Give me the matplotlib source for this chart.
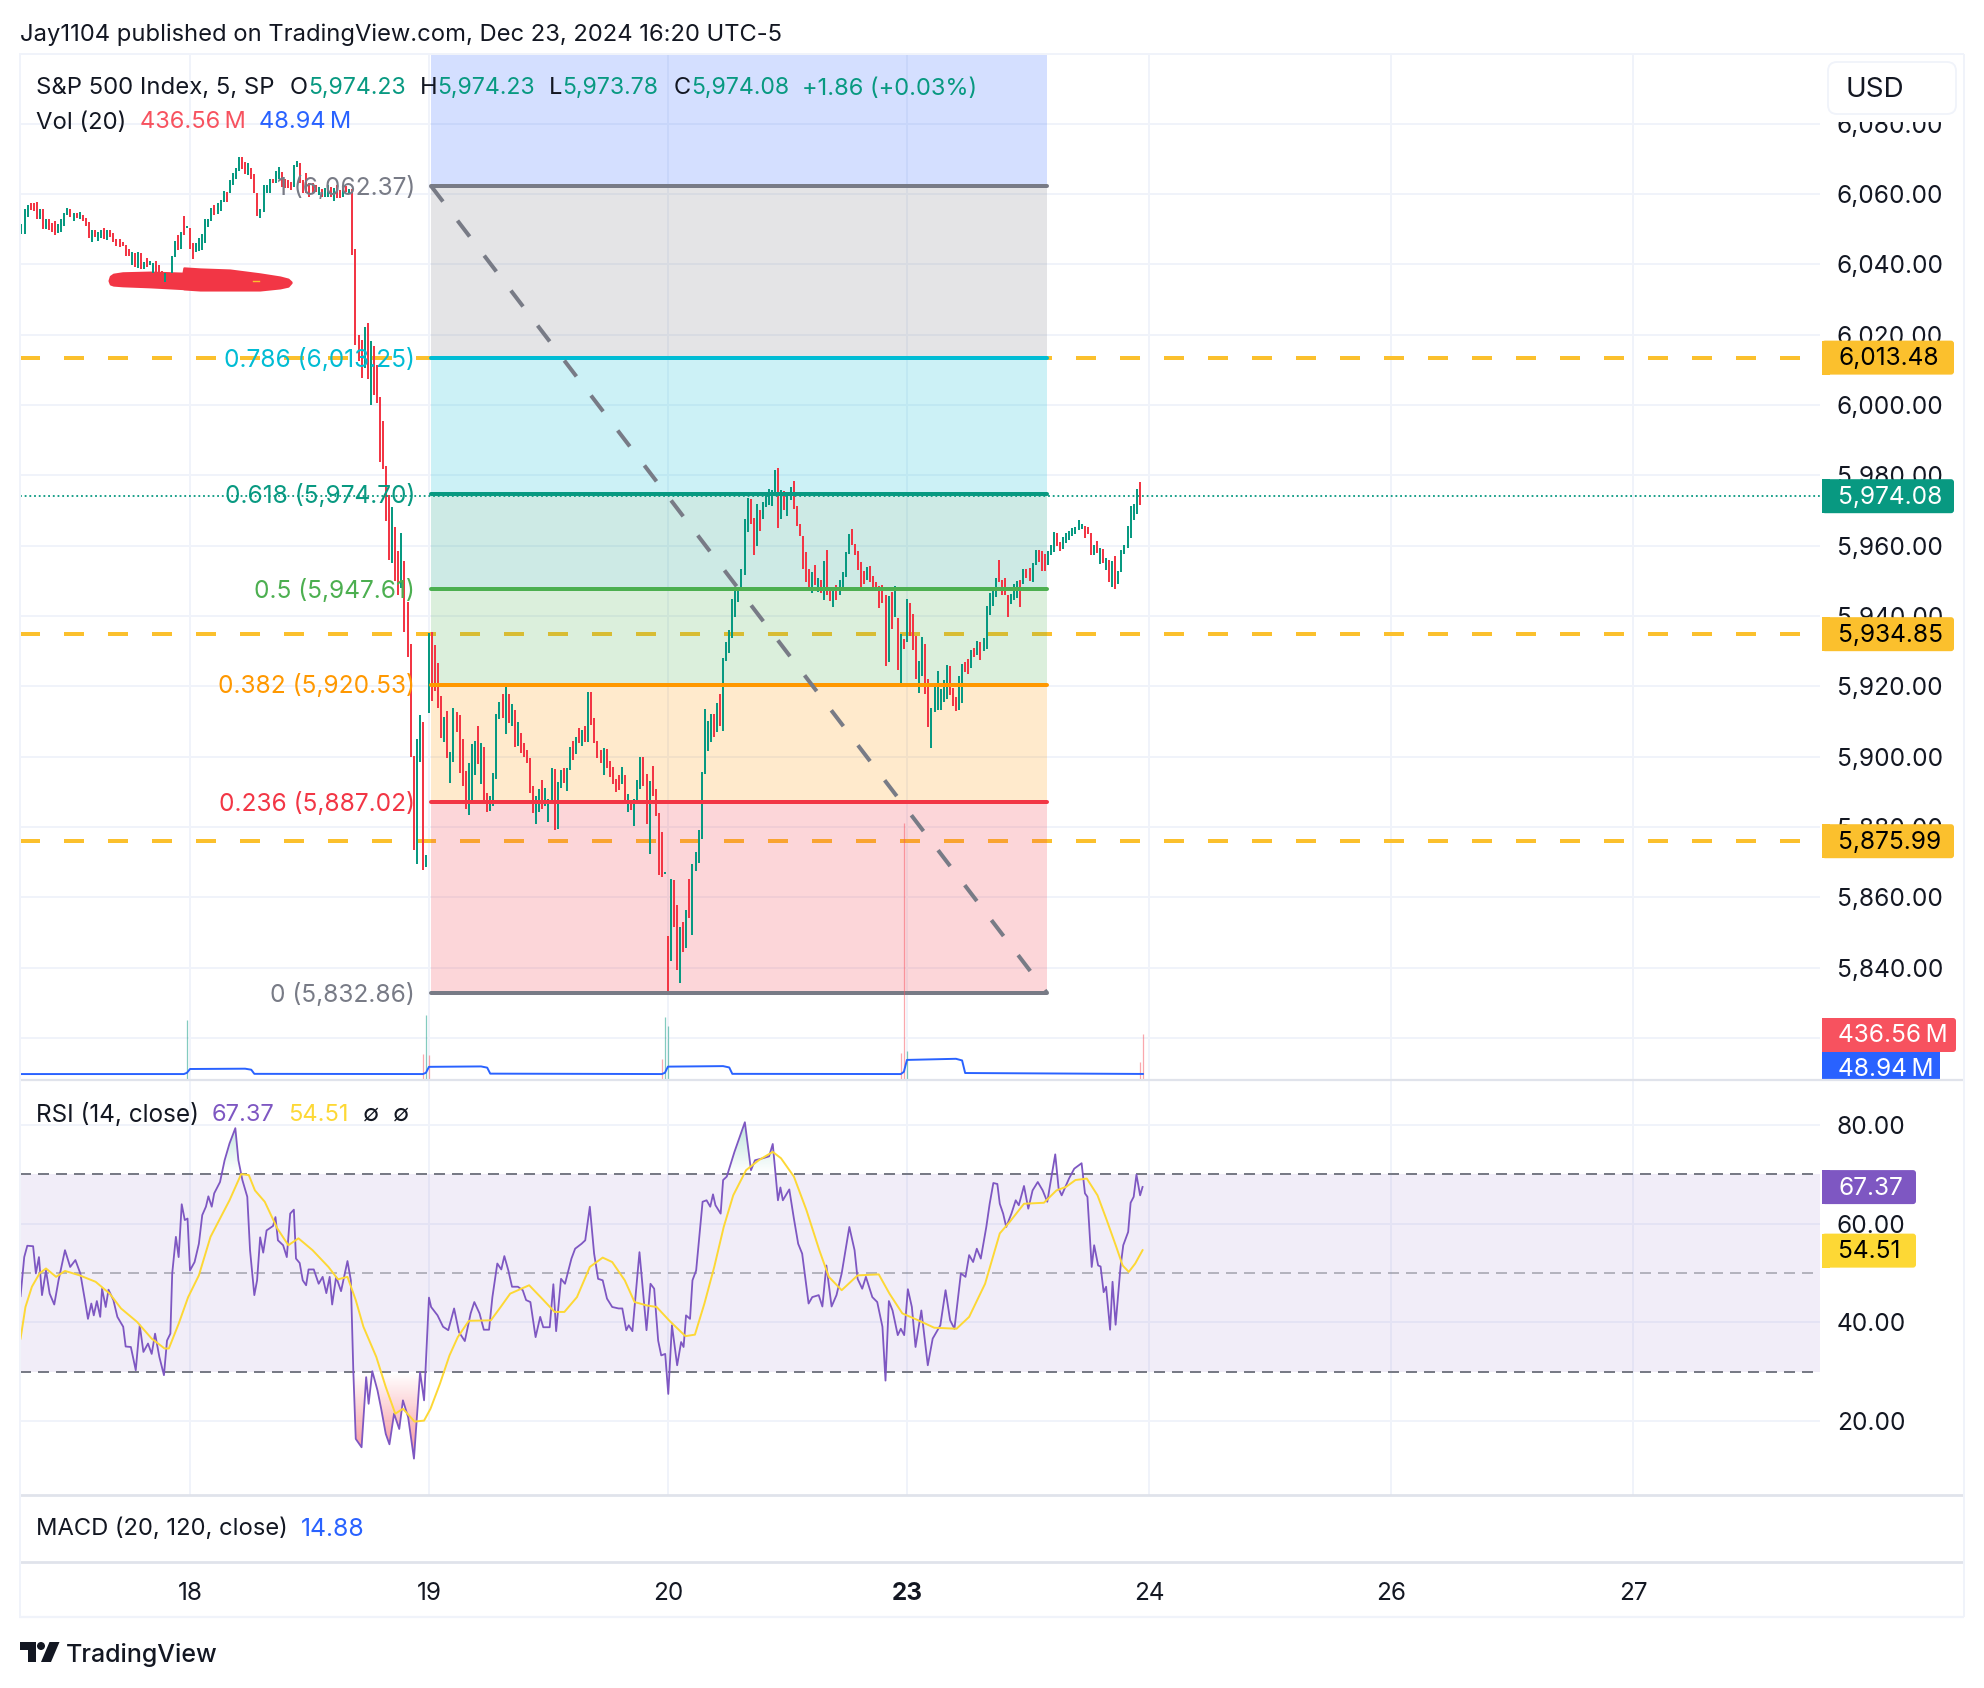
import matplotlib
matplotlib.use("Agg")
import matplotlib.pyplot as plt
import numpy as np
from matplotlib.patches import FancyBboxPatch, Rectangle, Circle, Polygon
from matplotlib.path import Path

plt.rcParams['font.family'] = ['Inter', 'DejaVu Sans']

# (open, close) per 5 minute bar, one list per session
day17_bars = [(6048.6,6051.5),(6048.6,6055.7),(6053.5,6056.9),(6057.3,6055.4),(6057.3,6055.2),(6057.6,6052.8),(6052.8,6055.6),(6055.6,6050.0),(6050.0,6053.0),(6052.9,6049.8),(6051.8,6049.3),(6052.3,6048.3),(6048.8,6051.6),(6049.3,6053.0),(6050.9,6054.5),(6054.0,6055.9),(6055.6,6053.5),(6052.3,6054.5),(6054.5,6053.1),(6052.9,6054.9),(6054.0,6052.4),(6053.3,6050.9),(6052.1,6047.6),(6046.4,6049.9),(6049.7,6047.9),(6046.7,6049.3),(6047.4,6049.9),(6050.2,6047.1),(6046.9,6049.7),(6049.7,6047.9),(6048.8,6046.4),(6047.2,6045.3),(6047.2,6045.0),(6046.4,6045.2),(6045.5,6042.5),(6044.3,6042.3),(6039.8,6043.6),(6043.1,6039.3),(6039.1,6043.4),(6043.1,6038.8),(6038.7,6040.7),(6041.7,6039.3),(6039.8,6041.0),(6037.6,6040.3),(6040.9,6037.7),(6039.8,6037.4),(6038.2,6036.5),(6035.1,6037.6),(6037.4,6036.0),(6037.4,6042.4),(6042.0,6046.7),(6048.3,6044.1),(6044.3,6049.3),(6053.7,6048.3),(6050.4,6050.8)]
day18_bars = [(6050.2,6044.3),(6046.0,6041.6),(6043.6,6046.2),(6043.9,6047.4),(6044.1,6048.6),(6046.0,6053.0),(6050.5,6053.0),(6052.3,6055.9),(6056.9,6054.0),(6054.3,6057.3),(6055.2,6058.3),(6057.8,6060.9),(6060.6,6057.8),(6060.2,6064.0),(6062.5,6065.9),(6064.3,6067.3),(6066.6,6070.4),(6070.4,6067.0),(6069.2,6065.7),(6065.4,6068.7),(6067.3,6064.4),(6065.7,6060.2),(6060.2,6053.8),(6053.3,6055.6),(6054.8,6062.5),(6060.2,6062.5),(6060.4,6064.4),(6064.4,6063.0),(6063.0,6066.6),(6064.4,6067.8),(6066.3,6062.1),(6064.2,6061.6),(6064.0,6061.6),(6063.5,6061.1),(6062.1,6068.2),(6067.8,6069.4),(6068.7,6063.0),(6064.0,6060.2),(6065.9,6060.2),(6063.0,6059.2),(6063.0,6060.2),(6062.5,6060.7),(6059.7,6062.0),(6061.3,6059.2),(6059.2,6061.6),(6059.2,6062.5),(6062.0,6059.2),(6058.1,6061.6),(6062.5,6058.8),(6061.1,6058.8),(6059.2,6062.5),(6062.3,6060.6),(6060.2,6061.4),(6061.3,6042.6),
    (6044.3,6017.1),(6019.8,6012.5),(6018.5,6007.8),(6010.5,6022.2),(6023.4,6007.3),(5999.9,6018.1),(6016.8,6002.9),(6011.4,6000.7),(6002.2,5983.9),(5995.5,5981.9),(5982.7,5967.0),(5974.4,5955.9),(5955.2,5971.1),(5965.4,5950.1),(5958.5,5946.1),(5947.9,5963.7),(5955.6,5935.6),(5944.1,5928.4),(5932.0,5899.8),(5900.1,5873.4),(5869.6,5905.0),(5898.4,5911.8),(5909.9,5867.9),(5868.7,5872.0)]
day19_bars = [(5912.5,5935.1),(5935.5,5915.9),(5931.8,5918.8),(5926.6,5913.9),(5917.3,5905.4),(5904.3,5911.3),(5913.0,5899.7),(5892.6,5901.3),(5898.6,5913.9),(5912.7,5907.1),(5911.9,5895.5),(5905.0,5891.8),(5895.9,5885.2),(5883.5,5898.2),(5887.8,5903.6),(5894.9,5904.5),(5908.7,5898.0),(5892.3,5903.9),(5902.8,5886.9),(5889.7,5884.4),(5884.6,5888.8),(5886.1,5895.4),(5893.8,5912.1),(5910.8,5915.5),(5917.8,5911.1),(5906.6,5919.8),(5917.8,5909.7),(5908.8,5915.0),(5913.3,5902.9),(5903.1,5909.9),(5906.7,5901.1),(5903.9,5900.0),(5901.9,5898.3),(5899.6,5889.8),(5891.7,5884.1),(5881.0,5888.8),(5884.4,5890.8),(5893.4,5885.2),(5886.1,5891.1),(5881.5,5888.1),(5887.2,5896.8),(5896.5,5879.2),(5879.5,5892.8),(5891.2,5896.2),(5896.8,5892.6),(5890.3,5896.8),(5896.3,5902.8),(5904.5,5899.2),(5900.8,5905.6),(5908.2,5904.0),(5903.1,5907.6),(5908.7,5904.3),(5904.3,5918.4),(5918.4,5909.1),(5911.0,5904.0),(5904.5,5899.7),(5901.9,5898.3),(5894.9,5902.5),(5902.2,5896.9),(5898.8,5894.3),(5897.1,5892.3),(5893.7,5890.0),(5894.8,5890.6),(5892.3,5897.1),(5894.8,5887.2),(5884.4,5889.4),(5887.7,5884.9),(5880.4,5888.0),(5887.7,5893.4),(5890.9,5899.9),(5899.9,5891.8),(5895.1,5881.0),(5872.4,5893.1),(5897.4,5888.9),(5890.8,5883.2),(5884.0,5866.5),(5878.6,5865.9),(5866.7,5867.2)]
day20_bars = [(5849.0,5832.2),(5842.0,5865.2),(5864.9,5851.7),(5857.8,5839.4),(5835.8,5851.6),(5853.0,5844.6),(5845.7,5856.4),(5865.2,5854.2),(5849.4,5869.5),(5867.6,5872.9),(5869.9,5879.2),(5876.7,5895.6),(5895.2,5913.6),(5901.7,5910.1),(5904.3,5912.1),(5912.1,5905.7),(5907.1,5915.3),(5917.8,5908.8),(5907.4,5928.0),(5927.2,5932.6),(5929.5,5936.0),(5933.7,5944.8),(5939.7,5947.7),(5944.0,5948.2),(5948.1,5953.4),(5951.7,5967.6),(5963.9,5973.6),(5973.3,5966.2),(5967.9,5957.3),(5959.9,5971.9),(5970.1,5964.2),(5967.6,5972.4),(5971.1,5974.7),(5971.6,5976.1),(5971.3,5975.8),(5974.4,5981.5),(5982.0,5965.0),(5967.6,5975.8),(5975.5,5970.1),(5968.4,5975.3),(5973.0,5976.7),(5978.4,5970.4),(5971.3,5965.6),(5966.2,5962.8),(5962.8,5953.4),(5958.2,5949.7),(5953.4,5947.1),(5946.5,5952.5),(5954.5,5948.8),(5946.8,5950.8),(5950.2,5946.5),(5944.5,5955.6),(5958.8,5946.0),(5947.7,5944.3),(5942.6,5948.0),(5948.8,5944.5),(5946.0,5950.2),(5947.7,5952.5),(5951.1,5958.2),(5957.6,5963.3),(5964.7,5960.2),(5960.5,5957.3),(5958.5,5953.1),(5955.4,5948.2),(5952.8,5949.1),(5950.2,5953.9),(5954.2,5949.7),(5951.4,5948.0),(5949.7,5947.1),(5948.5,5942.3),(5948.8,5943.7),(5946.0,5925.8),(5926.9,5945.7),(5946.8,5936.3),(5939.7,5948.5),(5939.4,5924.6),(5920.9,5934.9),(5933.5,5930.6)]
day23_bars = [(5932.6,5944.8),(5943.7,5934.3),(5940.6,5930.3),(5934.3,5922.1),(5918.1,5927.2),(5922.9,5934.0),(5932.0,5917.8),(5922.1,5908.4),(5902.5,5913.8),(5912.7,5919.8),(5913.3,5924.4),(5913.3,5919.2),(5915.5,5921.8),(5916.4,5926.1),(5925.8,5917.5),(5919.5,5914.4),(5917.0,5913.0),(5913.3,5922.9),(5915.3,5926.3),(5926.9,5924.1),(5927.8,5923.5),(5925.2,5930.3),(5930.9,5928.3),(5928.9,5932.9),(5932.6,5927.5),(5930.0,5933.8),(5930.6,5942.8),(5940.3,5946.5),(5942.8,5947.4),(5945.4,5950.8),(5955.9,5949.7),
    (5950.3,5945.9),(5950.7,5945.9),(5946.0,5939.6),(5943.3,5946.2),(5944.7,5949.2),(5945.0,5949.9),(5950.2,5942.7),(5949.0,5953.4),(5953.3,5950.7),(5953.8,5950.1),(5949.6,5955.0),(5954.6,5958.8),(5958.8,5955.4),(5958.4,5952.7),(5957.6,5952.9),(5954.4,5958.5),(5957.4,5960.1),(5958.3,5963.8),(5963.5,5959.9),(5961.0,5958.5),(5959.2,5962.4),(5960.8,5963.6),(5961.6,5964.3),(5962.8,5965.1),(5963.4,5965.3),(5964.6,5967.4),(5964.7,5966.3),(5965.5,5962.3),(5965.3,5963.3),(5963.5,5957.4),(5957.4,5960.2),(5961.4,5958.0),(5954.8,5959.3),(5959.1,5955.1),(5953.2,5956.5),(5956.0,5949.7),(5948.3,5955.6),(5957.0,5947.6),(5949.0,5952.8),(5952.5,5958.8),(5957.6,5960.2),(5959.3,5965.7),(5962.3,5971.2),(5967.3,5971.8),(5968.9,5976.0),(5978.1,5971.6)]

# fibonacci retracement
fib_levels = [1, 0.786, 0.618, 0.5, 0.382, 0.236, 0]
fib_prices = [6062.37, 6013.25, 5974.70, 5947.61, 5920.53, 5887.02, 5832.86]
fib_labels = ["1 (6,062.37)", "0.786 (6,013.25)", "0.618 (5,974.70)", "0.5 (5,947.61)", "0.382 (5,920.53)", "0.236 (5,887.02)", "0 (5,832.86)"]
fib_colors = ["#787B86", "#00BCD4", "#089981", "#4CAF50", "#FF9800", "#F23645", "#787B86"]
fib_start = 78.6
fib_end = 279.7

gold_levels = [6013.48, 5934.85, 5875.99]
last_price = 5974.08

# brush scribble under the lows of the 17th
brush_bar = [-26.4, -26, -25, -22, -13, -2.3, -2, 3.3, 13, 22.8, 29.4, 32, 33]
brush_top = [6035.5, 6036.6, 6037.2, 6037.6, 6037.8, 6037.5, 6039, 6038.7, 6038.4, 6037.3, 6036.4, 6035.8, 6035]
brush_low = [6035.3, 6034.4, 6034.1, 6033.9, 6033.6, 6033.1, 6033, 6032.7, 6032.7, 6032.7, 6033.3, 6033.8, 6034.8]

# volume in millions, only the bars that can be seen
vol_bar = [-1, 76, 77, 78, 154, 155, 156, 232, 233, 234, 310, 311]
vol_val = [572, 243, 620, 233, 194, 600, 514, 252, 2483, 272, 165, 436.56]
vol_up = [1, 0, 1, 0, 0, 1, 1, 0, 0, 1, 0, 0]
vma_bar = [-56, -2, -1, 0, 18, 20, 21, 76, 77, 78, 95, 97, 98, 154, 155, 156, 174, 176, 177, 232, 233, 234, 250, 252, 253, 311]
vma_val = [48, 48, 60, 97, 100, 90, 50, 48, 60, 118, 122, 110, 52, 48, 60, 120, 125, 112, 50, 48, 70, 185, 196, 180, 58, 48.94]

# RSI line, read at its turning points (bar, value)
rsi_points = [(-55.3,45.3),(-54.1,53.2),(-53.1,55.5),(-51.2,55.4),(-50.3,49.9),(-49.3,53.2),(-48.3,45.5),(-47,50.5),(-45.8,45.8),(-44.3,43.6),(-42.9,48.5),(-40.8,54.6),(-39.1,51.2),(-37.4,52.6),(-35.8,49.9),(-34.3,44.5),(-33.3,40.7),(-32.2,43.8),(-31.4,41.4),(-30.4,44.3),(-29.3,41.1),(-28.7,46.8),(-27.5,43.1),(-26.6,46.6),(-25,44.5),(-23.7,41.1),(-21.8,39.1),(-21,35.1),(-19.3,35),(-17.7,30.3),(-16.4,39.4),(-15.2,34),(-13.7,35.7),(-12.5,33.6),(-11.4,37.7),(-10,33),(-8.5,29.3),(-7.5,36.3),(-6.4,37.7),(-5.8,49.9),(-4.6,57.3),(-3.7,53.2),(-2.7,63.9),(-1.7,60.7),(-0.8,61),(0,50.5),(1.5,52.2),(2.9,55.9),(4,61.7),(5.2,63.4),(6,65.5),(7.1,63.4),(7.9,66.1),(9.8,68.4),(11.3,72.8),(12.9,76.2),(14.8,79.3),(15.8,72.8),(17.1,68.8),(18.7,65.4),(19.6,54.6),(21,45.5),(21.9,48.5),(22.9,57.2),(23.9,54.1),(25,58.6),(27.1,59.5),(27.9,61.3),(28.7,56.6),(30.4,55.6),(31.6,53.2),(32.7,62),(33.9,62.8),(34.6,52.9),(35.8,52),(36.8,48.5),(37.9,47.5),(38.7,50.7),(40.4,50.7),(42,47.8),(43.3,49.2),(44.5,45.9),(45.6,49.2),(46.4,43.6),(47.7,49.2),(49.3,46.3),(51.4,52.4),(52.5,48.5),(53.3,30.3),(54.1,16.4),(56,14.7),(57.5,28.9),(58.3,23.5),(59.5,30.1),(61.2,26.2),(62.4,22.5),(63.9,17.4),(65.1,15.3),(66.6,21.5),(68.3,18.4),(69.5,24.2),(71.2,20.8),(73.1,12.4),(75.1,29.9),(76.4,24.2),(78,45),(78.7,43.1),(80.8,41.4),(82.6,39.1),(84.3,38.4),(86.2,42.8),(87.8,38),(89.7,36.2),(91.6,41.8),(92.8,44.1),(94.5,41.8),(95.9,38.5),(97.6,38.5),(98.7,45.1),(100.3,51.9),(101.6,50.7),(102.6,53.4),(103.9,50.5),(105.1,47.2),(107,47.2),(108.6,46.5),(109.7,44.5),(111.1,44.1),(112.8,37),(114.3,41.1),(115.3,39),(117.4,39),(118.6,47.7),(119.5,38.2),(121.1,48.8),(122.4,47.8),(124.5,52.9),(125.7,54.9),(127.8,55.9),(129,56.6),(130.5,63.4),(131.9,53.9),(133.2,48.8),(134.7,48.5),(136.1,44.8),(137.8,43.1),(139.9,42.8),(141.1,42.8),(142.4,38.4),(143.2,39.4),(144.4,38.2),(146.7,54.2),(149,38.4),(150.3,47.8),(151.5,46.8),(152.8,36.3),(153.8,33.3),(155.1,33.6),(156.1,25.5),(157.3,39.4),(159,31.3),(160.3,36),(161.1,35),(161.9,41.4),(163.2,40.7),(164,48.5),(165.2,50.5),(167.3,64.4),(168.6,64.7),(169.8,63.4),(170.7,65.9),(171.5,63.7),(173.2,62),(174,68.8),(175.2,69.5),(177.7,74.5),(181.1,80.5),(183.1,70.8),(184.4,72.8),(186.9,73.2),(189,73.6),(190.2,76.1),(191.9,64.7),(192.7,67.3),(193.5,64.7),(195.6,66.9),(197.1,61),(198.5,55.9),(199.8,53.9),(201.9,43.8),(203.1,45.1),(205.2,45.5),(206.4,43.2),(207.7,51.5),(209.4,43.2),(211,45.5),(212.7,49.9),(215.2,59.3),(216.9,54.6),(217.9,48.8),(219.4,46.8),(220.6,49.2),(222.7,45.1),(224.3,44.1),(226,39.1),(227,28.2),(228.1,44.3),(229.3,42.4),(231,37.4),(232,38.7),(233.1,37.4),(234.3,46.7),(235.6,43.1),(236.8,35),(238.7,42.4),(240.8,31.3),(242.4,36.7),(244.9,39.4),(246.6,46.5),(248.1,40.4),(249.5,38.7),(251.6,49.9),(253.1,49.2),(254.3,53.6),(255.6,52.2),(256.8,54.9),(258.1,52.9),(259.9,59.3),(261,64),(262.2,68.2),(263.5,68),(264.3,64),(265.4,62),(266.4,59.3),(268.1,62),(269.5,64.7),(270.5,63.7),(272.2,67.6),(273.6,63),(275,66.7),(276.7,68.4),(278.3,66.7),(279.8,64.4),(282.4,74),(283.5,67.1),(284.5,65.7),(286.9,69.1),(288.6,71.1),(291,72.2),(292.1,66.1),(292.9,65.4),(294.3,51.2),(295.1,55.6),(296.4,51.5),(297.2,51.3),(298.2,46.1),(299,47.2),(300.3,38.5),(301.1,48.2),(302.1,39.5),(303.7,51.2),(304.6,55.6),(306.2,58.3),(307,64.2),(308,65.4),(308.9,69.9),(310.1,65.7),(310.9,67.4)]
rsi_ma_points = [(-55.3,36.7),(-53.7,43.1),(-51.6,47.2),(-49.1,49.9),(-47,50.9),(-43.7,49.2),(-40.8,50.4),(-36,49.5),(-30.8,48.2),(-26.2,45.8),(-22.5,42.8),(-17.3,40.1),(-12.5,36.7),(-8.3,34.7),(-6.9,34.7),(-3.7,39.7),(-0.6,45.1),(2.9,49.5),(6.7,57.3),(9.8,61),(12.9,64.7),(16.7,70),(19.2,69.8),(21.2,66.7),(24.4,64.4),(28.5,59),(32.1,55.6),(35.4,57),(40,54.6),(45.2,51.2),(48.3,48.7),(51.4,49.2),(54.1,44.5),(56.6,39.1),(60.8,33),(63.9,26.9),(67,21.5),(69.5,22.5),(73.3,19.9),(76.4,20.1),(78.5,22.5),(81.6,27.6),(84.7,33.3),(87.4,37),(91,40.3),(98.2,40.4),(101.4,43.1),(104.5,45.8),(110.7,47.5),(114.9,44.8),(119,42.1),(122.2,42.1),(126.3,45.1),(130.5,51.2),(134.7,53.1),(137.8,52.2),(141.9,48.5),(145.1,44.1),(149.2,43.4),(152.3,43.1),(156.5,40.3),(161.7,37.2),(164.8,37.5),(167.9,43.8),(171.1,51.2),(174.2,59.3),(177.3,65.7),(181.5,70.8),(185.6,72.8),(190.2,74.5),(192.9,73.2),(197.1,69.5),(201.2,62.7),(205.4,54.6),(208.5,49.2),(212.7,46.5),(217.9,49.5),(224.8,49.7),(228.3,45.8),(232.5,41.8),(237.7,40.4),(242.9,38.9),(250.2,38.7),(254.3,41.1),(259.5,47.8),(264.3,58),(267.5,60.3),(272.2,64),(278.7,64.2),(282.8,66.7),(285.9,67.4),(289,68.8),(292.7,69.1),(296.2,65.7),(299.2,60.7),(302.3,55.3),(304.4,51.5),(306.4,50.2),(308.5,51.9),(310.9,54.6)]

price_ticks = list(range(5820, 6081, 20))
rsi_ticks = [20, 40, 60, 80]
day_ticks = [0, 78, 156, 234, 313, 392, 471]
day_names = ["18", "19", "20", "23", "24", "26", "27"]

TEXT = "#131722"
GRID = "#F0F3FA"
SEP = "#E0E3EB"
GREEN = "#089981"
RED = "#F23645"
GOLD = "#FBC02D"
PURPLE = "#7E57C2"
YELLOW = "#FDD835"
BLUE = "#2962FF"
W, H = 1984, 1688


def pane(top, bottom):
    return [20 / W, 1 - bottom / H, 1800 / W, (bottom - top) / H]


fig = plt.figure(figsize=(W / 100, H / 100), dpi=100, facecolor="white")
xlim = (-55.48, 532)

# main pane
ax = fig.add_axes(pane(54, 1080))
ax.set_xlim(xlim)
ax.set_ylim(5808.1, 6099.8)
ax.set_xticks(day_ticks)
ax.set_xticklabels([])
ax.set_yticks(price_ticks)
ax.set_yticklabels([f"{v:,.2f}" for v in price_ticks])
ax.yaxis.tick_right()
ax.tick_params(length=0, labelsize=17.6, labelcolor=TEXT, pad=12)
ax.grid(color=GRID, lw=1.44)
ax.set_axisbelow(True)
for s in ax.spines.values():
    s.set_visible(False)

for lv in gold_levels:
    ax.plot(xlim, [lv, lv], color=GOLD, lw=2.88, ls=(0, (5, 6)), dash_capstyle="butt", zorder=1.5)

# fib fills, each band takes the colour of its upper level, blue above the top one
ax.fill_between([fib_start, fib_end], fib_prices[0], 6099.8, color=BLUE, alpha=0.2, lw=0, zorder=2)
for k in range(1, len(fib_prices)):
    ax.fill_between([fib_start, fib_end], fib_prices[k], fib_prices[k - 1], color=fib_colors[k - 1],
                    alpha=0.2, lw=0, zorder=2)

ax.fill_between(brush_bar, brush_low, brush_top, color=RED, lw=1.5, zorder=2.5)
ax.plot([20.5, 22.5], [6035.3, 6035.3], color="#FBC02D", lw=1.0, zorder=2.6)

# bars
all_x, all_o, all_c = [], [], []
for start, bars in [(-len(day17_bars), day17_bars), (0, day18_bars), (78, day19_bars), (156, day20_bars), (234, day23_bars)]:
    for i, (o, c) in enumerate(bars):
        all_x.append(start + i)
        all_o.append(o)
        all_c.append(c)
bar_colors = [GREEN if c >= o else RED for o, c in zip(all_o, all_c)]
vl = ax.vlines(all_x, all_o, all_c, colors=bar_colors, lw=1.44, zorder=3)
vl.set_capstyle("butt")

ax.plot(xlim, [last_price, last_price], color=GREEN, lw=1.3, ls=(0, (1, 1.6)), zorder=3.5)

for p, c in zip(fib_prices, fib_colors):
    ax.plot([fib_start, fib_end], [p, p], color=c, lw=2.88, solid_capstyle="round", zorder=4)
ax.plot([fib_start, fib_end], [fib_prices[0], fib_prices[-1]], color="#787B86", lw=2.88,
        ls=(0, (5, 6)), dash_capstyle="butt", zorder=4.5)

for p, c, s in zip(fib_prices, fib_colors, fib_labels):
    ax.annotate(s, (73.5, p), xytext=(0, -1.4), textcoords="offset points", color=c, fontsize=17.6,
                ha="right", va="center", zorder=6)

# volume overlay, same rectangle
ax_vol = fig.add_axes(pane(54, 1080), facecolor="none")
ax_vol.set_xlim(xlim)
ax_vol.set_ylim(-9.7, 9942)
ax_vol.axis("off")
for b, v, u in zip(vol_bar, vol_val, vol_up):
    ax_vol.vlines(b, 0, v, color=GREEN if u else "#F7525F", alpha=0.5, lw=0.9)
ax_vol.plot(vma_bar, vma_val, color=BLUE, lw=1.4)

# rsi pane
ax2 = fig.add_axes(pane(1080, 1495))
ax2.set_xlim(xlim)
ax2.set_ylim(5.04, 89.05)
ax2.set_xticks(day_ticks)
ax2.set_xticklabels([])
ax2.set_yticks(rsi_ticks)
ax2.set_yticklabels([f"{v:.2f}" for v in rsi_ticks])
ax2.yaxis.tick_right()
ax2.tick_params(length=0, labelsize=17.6, labelcolor=TEXT, pad=12)
ax2.grid(color=GRID, lw=1.44)
ax2.set_axisbelow(True)
for s in ax2.spines.values():
    s.set_visible(False)
ax2.axhspan(30, 70, color=PURPLE, alpha=0.1, lw=0, zorder=1.5)
ax2.axhline(70, color="#787B86", lw=1.44, ls=(0, (5.5, 3.5)), zorder=2)
ax2.axhline(30, color="#787B86", lw=1.44, ls=(0, (5.5, 3.5)), zorder=2)
ax2.axhline(50, color="#787B86", lw=1.44, ls=(0, (5.5, 3.5)), alpha=0.5, zorder=2)

rsi_x = np.array([p[0] for p in rsi_points])
rsi_y = np.array([p[1] for p in rsi_points])


def gradient_fill(mask_level, far_level, color, max_alpha, above):
    where = rsi_y > mask_level if above else rsi_y < mask_level
    coll = ax2.fill_between(rsi_x, rsi_y, mask_level, where=where, interpolate=True, alpha=0, lw=0)
    rgba = np.zeros((64, 1, 4))
    rgba[..., :3] = matplotlib.colors.to_rgb(color)
    rgba[:, 0, 3] = np.linspace(max_alpha, 0, 64) if above else np.linspace(0, max_alpha, 64)
    lo, hi = sorted([mask_level, far_level])
    im = ax2.imshow(rgba, extent=[xlim[0], xlim[1], lo, hi], aspect="auto", origin="upper", zorder=2.2)
    im.set_clip_path(Path.make_compound_path(*coll.get_paths()), transform=ax2.transData)


gradient_fill(30, 11, RED, 0.6, False)
gradient_fill(70, 81, GREEN, 0.28, True)
ax2.set_xlim(xlim)
ax2.set_ylim(5.04, 89.05)

ax2.plot(rsi_x, rsi_y, color=PURPLE, lw=1.3, zorder=3)
ax2.plot([p[0] for p in rsi_ma_points], [p[1] for p in rsi_ma_points], color=YELLOW, lw=1.4, zorder=3.2)

# time axis
ax3 = fig.add_axes(pane(1562, 1575), facecolor="none")
ax3.set_xlim(xlim)
ax3.set_ylim(0, 1)
ax3.set_yticks([])
ax3.set_xticks(day_ticks)
ax3.set_xticklabels(day_names)
ax3.tick_params(length=0, labelsize=17.5, labelcolor=TEXT, pad=5)
ax3.get_xticklabels()[3].set_fontweight("bold")
for s in ax3.spines.values():
    s.set_visible(False)

# overlay in pixels for the chrome
ov = fig.add_axes([0, 0, 1, 1], facecolor="none", zorder=10)
ov.set_xlim(0, W)
ov.set_ylim(H, 0)
ov.axis("off")


def txt(x, y, s, color=TEXT, size=17.0, ha="left", **kw):
    ov.text(x, y + 2, s, color=color, fontsize=size, ha=ha, va="center", **kw)


def tag(y0, y1, x1, color):
    ov.add_patch(FancyBboxPatch((1822, y0), x1 - 1822, y1 - y0, boxstyle="round,pad=0,rounding_size=3", fc=color, ec="none"))
    ov.add_patch(Rectangle((1822, y0), 8, y1 - y0, fc=color, ec="none"))


def price_px(p):
    return H - ax.transData.transform((0, p))[1]


def rsi_px(v):
    return H - ax2.transData.transform((0, v))[1]


# the price column is clipped below the button
ov.add_patch(Rectangle((1822, 55), 140, 67, fc="white", ec="none"))

# frame and separators
for y, c, lw in [(54, GRID, 1.44), (1617, GRID, 1.6), (1080, SEP, 1.6), (1495, SEP, 2.0), (1562, SEP, 2.0)]:
    ov.plot([19, 1964], [y, y], color=c, lw=lw, solid_capstyle="butt")
for x in [19.5, 1964]:
    ov.plot([x, x], [54, 1617], color=GRID, lw=1.44, solid_capstyle="butt")

# price tags
for p, s in zip(gold_levels, ["6,013.48", "5,934.85", "5,875.99"]):
    y = price_px(p)
    tag(y - 17, y + 17, 1954, GOLD)
    txt(1838, y - 1, s, color="#000000", size=17.6)
y = price_px(last_price)
tag(y - 17, y + 17, 1954, GREEN)
txt(1838, y - 1, "5,974.08", color="white", size=17.6)
tag(1018, 1052, 1956, "#F7525F")
txt(1838, 1034, "436.56\u2009M", color="white", size=17.6)
ov.add_patch(Rectangle((1822, 1052), 118, 27, fc=BLUE, ec="none"))
txt(1838, 1067, "48.94\u2009M", color="white", size=17.6)

y = rsi_px(67.37)
tag(y - 17, y + 17, 1916, PURPLE)
txt(1838, y - 1, "67.37", color="white", size=17.6)
y = rsi_px(54.51)
tag(y - 17, y + 17, 1916, YELLOW)
txt(1838, y - 1, "54.51", color="#000000", size=17.6)

# USD button
ov.add_patch(FancyBboxPatch((1828, 62), 128, 52, boxstyle="round,pad=0,rounding_size=9", fc="white", ec=GRID, lw=1.3))
txt(1846, 88, "USD", size=20)

# header and legends
txt(20, 33, "Jay1104 published on TradingView.com, Dec 23, 2024 16:20 UTC-5", size=17.1)
txt(36, 86.5, "S&P 500 Index, 5, SP", size=17.2)
for x, s in [(290, "O"), (420, "H"), (549, "L"), (674, "C")]:
    txt(x, 86.5, s, size=17)
for x, s in [(308, "5,974.23"), (437, "5,974.23"), (562, "5,973.78"), (691, "5,974.08")]:
    txt(x, 86.5, s, color=GREEN, size=16.6)
txt(802, 86.5, "+1.86 (+0.03%)", color=GREEN, size=17)
txt(36, 120.5, "Vol (20)", size=17.2)
txt(140, 120.5, "436.56\u2009M", color="#F7525F", size=17)
txt(259, 120.5, "48.94\u2009M", color=BLUE, size=17)
txt(36, 1113, "RSI (14, close)", size=17.5)
txt(212, 1113, "67.37", color=PURPLE, size=17)
txt(288, 1113, "54.51", color=YELLOW, size=17)
txt(363, 1113, "\u2205", size=17)
txt(393, 1113, "\u2205", size=17)
txt(36, 1527, "MACD (20, 120, close)", size=17.1)
txt(301, 1527, "14.88", color=BLUE, size=17.8)

# logo
ov.add_patch(Polygon([(20, 1642), (36, 1642), (36, 1662), (28, 1662), (28, 1650), (20, 1650)], fc=TEXT, ec="none"))
ov.add_patch(Circle((41, 1646), 4, fc=TEXT, ec="none"))
ov.add_patch(Polygon([(49.5, 1642), (59.5, 1642), (51, 1662), (41, 1662)], fc=TEXT, ec="none"))
txt(66, 1653, "TradingView", size=18, fontweight="medium")

fig.savefig("out.png", dpi=100)
